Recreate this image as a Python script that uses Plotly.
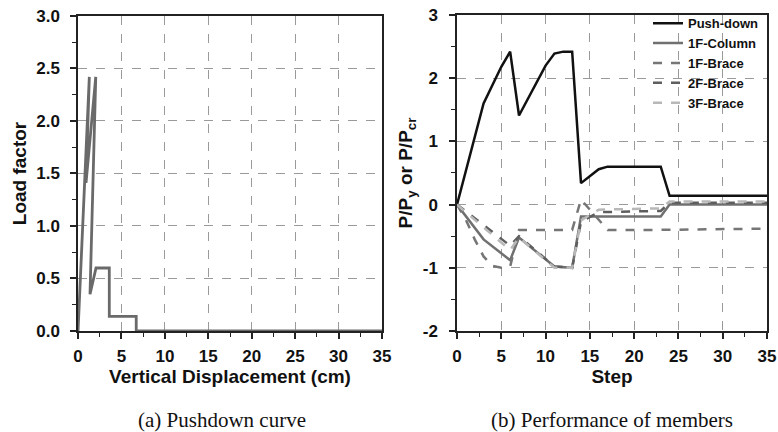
import plotly.graph_objects as go

# (a) Pushdown curve
disp = [0, 1.30, 0.92, 2.04, 1.38, 2.07, 3.6, 3.6, 6.7, 6.7, 35]
load = [0, 2.42, 1.41, 2.42, 0.35, 0.60, 0.60, 0.14, 0.14, 0.0, 0.0]

# (b) Performance of members
push_step = [0, 3, 5, 6, 7, 10, 11, 12, 13, 14, 16, 17, 23, 24, 35]
push_val = [0, 1.60, 2.18, 2.42, 1.41, 2.20, 2.39, 2.42, 2.42, 0.34, 0.56, 0.60, 0.60, 0.14, 0.14]

col_step = [0, 3, 6, 7, 11, 13, 14, 23, 24, 35]
col_val = [0, -0.55, -0.88, -0.52, -0.98, -1.0, -0.19, -0.19, 0.0, 0.0]

b1_step = [0, 1, 2, 3, 4, 5, 6, 7, 13, 14, 17, 23, 35]
b1_val = [0, -0.24, -0.55, -0.82, -0.97, -1.0, -0.98, -0.40, -0.40, 0.08, -0.40, -0.40, -0.38]

b2_step = [0, 6, 7, 11, 13, 14, 16, 23, 24, 35]
b2_val = [0, -0.65, -0.50, -0.98, -1.0, -0.27, -0.12, -0.10, 0.03, 0.03]

b3_step = [0, 6, 7, 11, 13, 14, 16, 23, 24, 35]
b3_val = [0, -0.72, -0.52, -1.0, -1.0, -0.25, -0.08, -0.06, 0.05, 0.05]

# tick labels
x_ticks = [0, 5, 10, 15, 20, 25, 30, 35]
x_labels = ["0", "5", "10", "15", "20", "25", "30", "35"]
y1_ticks = [0, 0.5, 1.0, 1.5, 2.0, 2.5, 3.0]
y1_labels = ["0.0", "0.5", "1.0", "1.5", "2.0", "2.5", "3.0"]
y2_ticks = [-2, -1, 0, 1, 2, 3]
y2_labels = ["-2", "-1", "0", "1", "2", "3"]

FONT = "Liberation Sans"
tickfont = dict(family=FONT, size=17, color="#111111", weight=700)
titlefont = dict(family=FONT, size=19, color="#111111", weight=700)

fig = go.Figure()

fig.add_trace(go.Scatter(x=disp, y=load, mode="lines", xaxis="x", yaxis="y",
                         line=dict(color="#6a6a6a", width=2.8), showlegend=False))

fig.add_trace(go.Scatter(x=push_step, y=push_val, mode="lines", xaxis="x2", yaxis="y2",
                         name="Push-down", line=dict(color="#111111", width=2.5)))
fig.add_trace(go.Scatter(x=col_step, y=col_val, mode="lines", xaxis="x2", yaxis="y2",
                         name="1F-Column", line=dict(color="#707070", width=2.5)))
fig.add_trace(go.Scatter(x=b1_step, y=b1_val, mode="lines", xaxis="x2", yaxis="y2",
                         name="1F-Brace", line=dict(color="#767676", width=2.5, dash="dash")))
fig.add_trace(go.Scatter(x=b2_step, y=b2_val, mode="lines", xaxis="x2", yaxis="y2",
                         name="2F-Brace", line=dict(color="#5e5e5e", width=2.5, dash="dash")))
fig.add_trace(go.Scatter(x=b3_step, y=b3_val, mode="lines", xaxis="x2", yaxis="y2",
                         name="3F-Brace", line=dict(color="#b8b8b8", width=2.5, dash="dash")))

common_axis = dict(showline=True, linecolor="#222222", linewidth=1.5, mirror=True,
                   ticks="outside", ticklen=6, tickwidth=1.5, tickcolor="#222222",
                   showgrid=True, gridcolor="#9a9a9a", griddash="dash", gridwidth=1,
                   zeroline=False, tickfont=tickfont, tickmode="array", automargin=False)
minor_style = dict(ticks="outside", ticklen=4, tickwidth=1.2, tickcolor="#222222", showgrid=False)

fig.update_layout(
    width=778, height=432,
    margin=dict(l=0, r=0, t=0, b=0),
    paper_bgcolor="white", plot_bgcolor="white",
    xaxis=dict(domain=[0.1003, 0.491], range=[0, 35],
               tickvals=x_ticks, ticktext=x_labels, ticklabelstandoff=3,
               minor=dict(tickmode="linear", tick0=0, dtick=2.5, **minor_style),
               title=dict(text="Vertical Displacement (cm)", font=titlefont, standoff=3),
               **common_axis),
    yaxis=dict(domain=[0.2338, 0.963], range=[0, 3],
               tickvals=y1_ticks, ticktext=y1_labels, ticklabelstandoff=7,
               minor=dict(tickmode="linear", tick0=0, dtick=0.25, **minor_style),
               title=dict(text="Load factor", font=titlefont, standoff=5),
               anchor="x", **common_axis),
    xaxis2=dict(domain=[0.5874, 0.9859], range=[0, 35], anchor="y2",
                tickvals=x_ticks, ticktext=x_labels, ticklabelstandoff=3,
                minor=dict(tickmode="linear", tick0=0, dtick=2.5, **minor_style),
                title=dict(text="Step", font=titlefont, standoff=3),
                **common_axis),
    yaxis2=dict(domain=[0.2338, 0.9653], range=[-2, 3], anchor="x2",
                tickvals=y2_ticks, ticktext=y2_labels, ticklabelstandoff=8,
                minor=dict(tickmode="linear", tick0=0, dtick=0.5, **minor_style),
                title=dict(text="P/P<sub>y</sub> or P/P<sub>cr</sub>", font=titlefont, standoff=5),
                **common_axis),
    legend=dict(x=0.982, y=0.981, xanchor="right", yanchor="top",
                bgcolor="rgba(255,255,255,0)", borderwidth=0,
                font=dict(family=FONT, size=13, color="#111111", weight=700),
                tracegroupgap=0),
    shapes=[
        dict(type="rect", xref="paper", yref="paper", x0=635/778, x1=766/778,
             y0=1 - 110/432, y1=1 - 17/432, fillcolor="white", line=dict(width=0),
             layer="between"),
    ],
    annotations=[
        dict(text="(a) Pushdown curve", x=222/778, y=0.028, xref="paper", yref="paper",
             showarrow=False, xanchor="center", yanchor="middle",
             font=dict(family="Liberation Serif", size=21, color="#111111")),
        dict(text="(b) Performance of members", x=612/778, y=0.028, xref="paper", yref="paper",
             showarrow=False, xanchor="center", yanchor="middle",
             font=dict(family="Liberation Serif", size=21, color="#111111")),
    ],
)

fig.write_html("out.html", config={"displayModeBar": False},
               post_script="document.body.style.margin='0px';")
